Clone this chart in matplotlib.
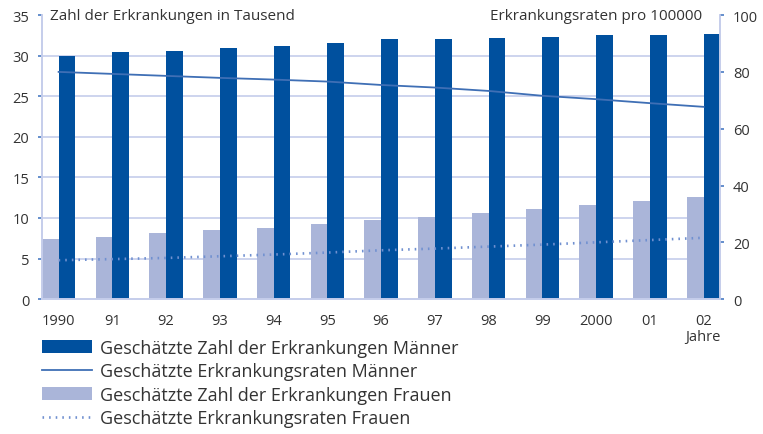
import matplotlib
matplotlib.use("Agg")
import matplotlib.pyplot as plt
from matplotlib.patches import Patch
from matplotlib.lines import Line2D
import numpy as np

plt.rcParams['font.family'] = ['Open Sans', 'DejaVu Sans']

years = ["1990", "91", "92", "93", "94", "95", "96", "97", "98", "99", "2000", "01", "02"]
men_cases = [30.0, 30.4, 30.6, 31.0, 31.2, 31.6, 32.0, 32.1, 32.2, 32.3, 32.6, 32.6, 32.7]
women_cases = [7.4, 7.7, 8.1, 8.5, 8.8, 9.2, 9.7, 10.1, 10.6, 11.1, 11.6, 12.1, 12.6]
men_rate = [80.0, 79.3, 78.6, 77.9, 77.3, 76.6, 75.4, 74.5, 73.3, 71.6, 70.4, 69.0, 67.7]
women_rate = [13.7, 14.1, 14.5, 15.1, 15.7, 16.4, 17.2, 17.8, 18.5, 19.2, 20.0, 20.8, 21.6]
left_ticks = [0, 5, 10, 15, 20, 25, 30, 35]
right_ticks = [0, 20, 40, 60, 80, 100]

labels = ["Geschätzte Zahl der Erkrankungen Männer",
          "Geschätzte Erkrankungsraten Männer",
          "Geschätzte Zahl der Erkrankungen Frauen",
          "Geschätzte Erkrankungsraten Frauen"]

MEN = "#00509e"
WOMEN = "#aab5d9"
GRID = "#c5cdeb"
LINE_M = "#3f6fb5"
LINE_W = "#7090d0"
TXT = "#333333"
TICK = "#4a7cc4"
DOTS = (0, (0.6, 1.9))

fig = plt.figure(figsize=(7.63, 4.35), dpi=100)
ax = fig.add_axes([0.055, 0.310, 0.889, 0.653])
ax2 = ax.twinx()

x = np.arange(len(years))
w = 0.31
ax.bar(x - w / 2, women_cases, width=w, color=WOMEN, zorder=2)
ax.bar(x + w / 2, men_cases, width=w, color=MEN, zorder=2)
ax.set_xlim(-w, len(years) - 1 + w)
ax.set_ylim(0, 35)
ax.set_yticks(left_ticks)
for t in left_ticks[1:-1]:
    ax.axhline(t, color=GRID, lw=1.2, zorder=1)

ax2.plot(x, men_rate, color=LINE_M, lw=1.3, zorder=3)
ax2.plot(x, women_rate, color=LINE_W, lw=1.9, linestyle=DOTS, zorder=3)
ax2.set_ylim(0, 100)
ax2.set_yticks(right_ticks)

for a in (ax, ax2):
    a.spines["top"].set_visible(False)
    for s in ("left", "right", "bottom"):
        a.spines[s].set_color(GRID)
        a.spines[s].set_linewidth(1.2)
ax.patch.set_visible(False)

ax.set_xticks(x)
ax.set_xticklabels(years)
ax.tick_params(axis='x', length=0, pad=10, labelsize=10.5, labelcolor=TXT)
ax.tick_params(axis='y', length=3, width=1.2, color=TICK, pad=6, labelsize=10.5, labelcolor=TXT)
ax2.tick_params(axis='y', length=3, width=1.2, color=TICK, pad=6, labelsize=10.5, labelcolor=TXT)

fig.text(0.066, 0.963, "Zahl der Erkrankungen in Tausend", fontsize=11, color=TXT, va='center', ha='left')
fig.text(0.92, 0.963, "Erkrankungsraten pro 100000", fontsize=11, color=TXT, va='center', ha='right')
fig.text(0.944, 0.225, "Jahre", fontsize=10.5, color=TXT, va='center', ha='right')

handles = [Patch(facecolor=MEN, edgecolor='none'),
           Line2D([], [], color=LINE_M, lw=1.3),
           Patch(facecolor=WOMEN, edgecolor='none'),
           Line2D([], [], color=LINE_W, lw=1.9, linestyle=DOTS)]
leg = fig.legend(handles, labels, loc='upper left', bbox_to_anchor=(0.055, 0.219),
                 frameon=False, fontsize=13, handlelength=2.75, handleheight=0.7,
                 labelspacing=0.3, handletextpad=0.45, borderaxespad=0, borderpad=0)
for t in leg.get_texts():
    t.set_color(TXT)

fig.savefig("out.png", dpi=100)
